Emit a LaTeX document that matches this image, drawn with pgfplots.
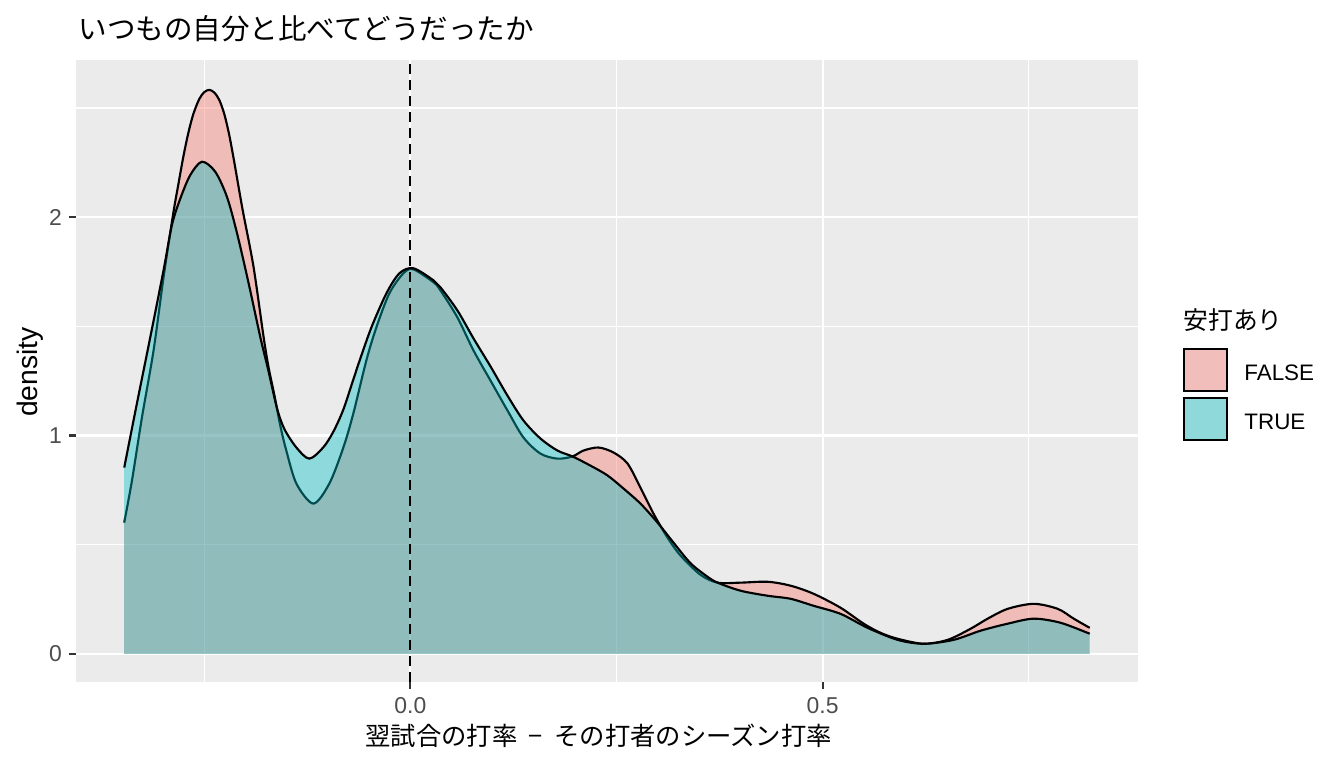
\documentclass[border=0pt]{standalone}
\usepackage{pgfplots}
\pgfplotsset{compat=1.18}
\usepackage{pgfplotstable}
\usepackage{fontspec}
\setmainfont{Liberation Sans}
\newfontfamily\jp{Noto Sans CJK JP}
\definecolor{panel}{HTML}{EBEBEB}
\definecolor{fc}{HTML}{F8766D}
\definecolor{tc}{HTML}{00BFC4}
\definecolor{fkey}{HTML}{F2BEBB}
\definecolor{tkey}{HTML}{8FD9DB}
\definecolor{tickc}{HTML}{4D4D4D}
\definecolor{tickm}{HTML}{333333}

\pgfplotstableread{
x y
-0.3471 0.601
-0.3377 0.794
-0.3256 1.083
-0.3115 1.390
-0.2994 1.725
-0.2876 2.018
-0.2816 2.147
-0.2755 2.275
-0.2694 2.385
-0.2633 2.472
-0.2561 2.541
-0.2500 2.573
-0.2439 2.583
-0.2379 2.571
-0.2318 2.537
-0.2257 2.472
-0.2197 2.376
-0.2136 2.252
-0.2075 2.119
-0.2027 2.018
-0.1902 1.771
-0.1780 1.450
-0.1720 1.312
-0.1650 1.185
-0.1578 1.045
-0.1505 0.931
-0.1383 0.780
-0.1177 0.688
-0.0983 0.780
-0.0813 0.945
-0.0692 1.101
-0.0534 1.344
-0.0413 1.495
-0.0255 1.651
-0.0085 1.743
0.0036 1.761
0.0279 1.702
0.0364 1.665
0.0570 1.541
0.0765 1.390
0.0971 1.252
0.1177 1.115
0.1371 0.991
0.1578 0.917
0.1784 0.894
0.1966 0.904
0.2100 0.931
0.2282 0.945
0.2464 0.922
0.2633 0.872
0.2791 0.761
0.2949 0.642
0.3119 0.532
0.3277 0.450
0.3519 0.362
0.3726 0.326
0.4005 0.326
0.4333 0.330
0.4612 0.312
0.4891 0.275
0.5218 0.211
0.5498 0.138
0.5704 0.096
0.5910 0.069
0.6226 0.046
0.6517 0.064
0.6796 0.115
0.7002 0.161
0.7245 0.206
0.7561 0.229
0.7852 0.206
0.8046 0.161
0.8240 0.119
}\falsedata

\pgfplotstableread{
x y
-0.3471 0.853
-0.3317 1.147
-0.3155 1.450
-0.2994 1.757
-0.2892 1.965
-0.2791 2.085
-0.2670 2.193
-0.2528 2.254
-0.2367 2.208
-0.2225 2.093
-0.2103 1.927
-0.1962 1.697
-0.1820 1.450
-0.1723 1.298
-0.1618 1.125
-0.1529 1.030
-0.1383 0.945
-0.1226 0.894
-0.1056 0.946
-0.0938 1.015
-0.0817 1.115
-0.0696 1.252
-0.0615 1.344
-0.0473 1.495
-0.0291 1.651
-0.0133 1.743
0.0036 1.766
0.0279 1.711
0.0364 1.679
0.0570 1.573
0.0765 1.445
0.0971 1.317
0.1177 1.183
0.1371 1.069
0.1578 0.986
0.1784 0.931
0.1966 0.904
0.2184 0.862
0.2391 0.817
0.2585 0.757
0.2791 0.688
0.2998 0.601
0.3192 0.509
0.3398 0.415
0.3604 0.353
0.3726 0.326
0.4005 0.289
0.4333 0.266
0.4612 0.252
0.4891 0.220
0.5218 0.183
0.5546 0.119
0.5910 0.064
0.6226 0.046
0.6590 0.064
0.6917 0.106
0.7245 0.138
0.7561 0.161
0.7888 0.142
0.8240 0.092
}\truedata

\begin{document}
\begin{tikzpicture}[x=1pt,y=1pt]
\useasboundingbox (0,0) rectangle (504,288);
\begin{axis}[
  at={(28.5pt,32.25pt)}, anchor=south west,
  scale only axis, width=398.25pt, height=233.25pt,
  xmin=-0.4056, xmax=0.8826, ymin=-0.129, ymax=2.72,
  axis background/.style={fill=panel},
  axis line style={draw=none},
  xtick={0,0.5}, xticklabels={0.0,0.5},
  ytick={0,1,2}, yticklabels={0,1,2},
  minor xtick={-0.25,0.25,0.75},
  minor ytick={0.5,1.5,2.5},
  grid=both,
  major grid style={white, line width=0.8pt},
  minor grid style={white, line width=0.4pt},
  tick align=outside, tick pos=left,
  major tick length=2.6pt, minor tick length=0pt,
  tick style={color=tickm, line width=0.8pt},
  ticklabel style={font=\fontsize{8.6}{10}\selectfont, text=tickc, inner sep=0pt},
  /pgf/number format/assume math mode=true,
  xticklabel shift=3pt, yticklabel shift=2.5pt,
  legend image code/.code={\draw[#1] (0pt,-4pt) rectangle (16pt,11.8pt);},
  legend style={at={(1.0424,0.537)}, anchor=north west, draw=none, fill=none,
    inner sep=0pt, outer sep=0pt, row sep=1.8pt, column sep=6.2pt,
    font=\fontsize{8.4}{10}\selectfont, nodes={inner sep=0pt},
    cells={anchor=base west}},
]
\addplot[fill=fc, fill opacity=0.4, draw=none, smooth, forget plot] table[x=x,y=y] {\falsedata} \closedcycle;
\addplot[black, line width=0.8pt, smooth, forget plot] table[x=x,y=y] {\falsedata};
\addplot[fill=tc, fill opacity=0.4, draw=none, smooth, forget plot] table[x=x,y=y] {\truedata} \closedcycle;
\addplot[black, line width=0.8pt, smooth, forget plot] table[x=x,y=y] {\truedata};
\addplot[black, line width=0.75pt, dash pattern=on 3.6pt off 2.4pt, forget plot] coordinates {(0,-0.129) (0,2.72)};
\addlegendimage{fill=fkey, draw=black, line width=0.8pt}
\addlegendentry{FALSE}
\addlegendimage{fill=tkey, draw=black, line width=0.8pt}
\addlegendentry{TRUE}
\end{axis}
\node[anchor=base west, inner sep=0pt, font=\jp\fontsize{10.7}{13}\selectfont] at (29.25,273) {いつもの自分と比べてどうだったか};
\node[anchor=base, inner sep=0pt, font=\jp\fontsize{9.5}{11}\selectfont] at (224.5,8.25) {翌試合の打率\hspace{0.45em}−\hspace{0.45em}その打者のシーズン打率};
\node[rotate=90, anchor=center, inner sep=0pt, font=\fontsize{10.6}{12}\selectfont] at (11.5,148.5) {density};
\node[anchor=base west, inner sep=0pt, font=\jp\fontsize{9.3}{11}\selectfont] at (443.6,164.6) {安打あり};
\end{tikzpicture}
\end{document}
